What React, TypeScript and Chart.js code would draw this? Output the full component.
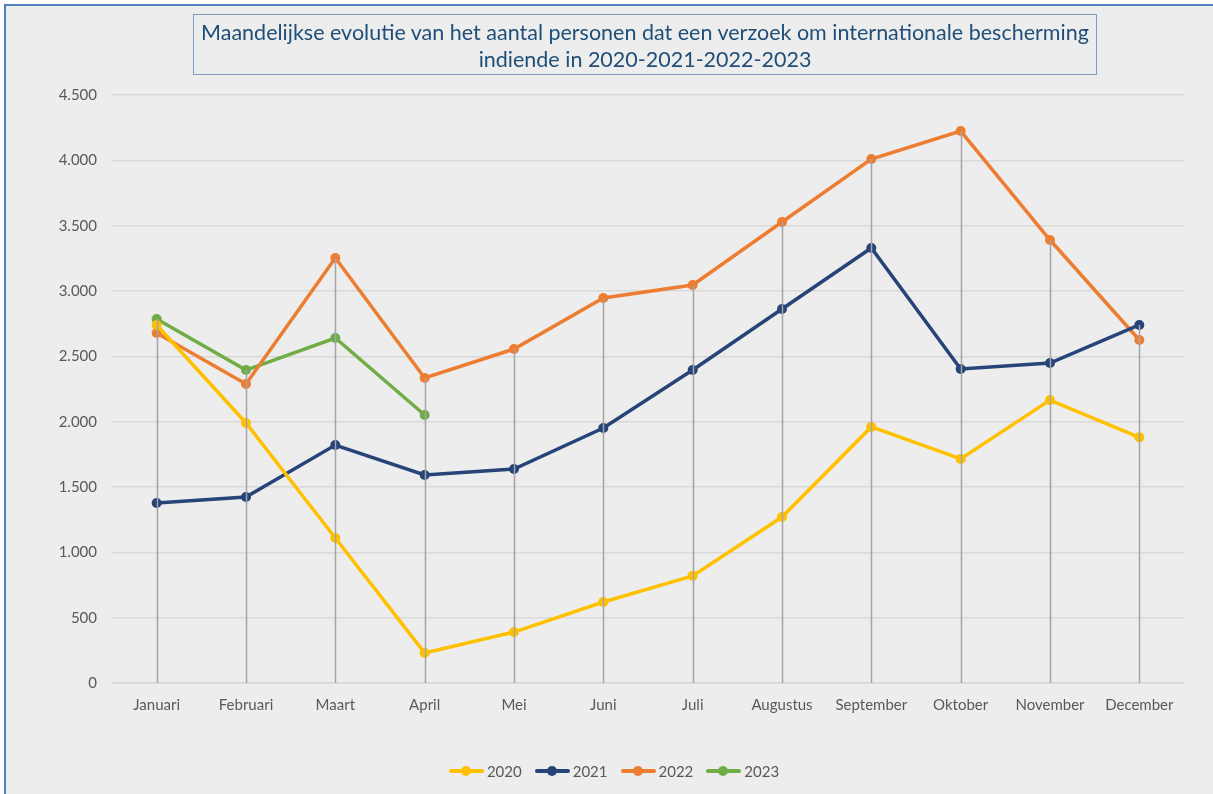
import React, { useEffect, useRef } from "react";
import { Chart, registerables } from "chart.js";

Chart.register(...registerables);

const months = ["Januari", "Februari", "Maart", "April", "Mei", "Juni", "Juli", "Augustus", "September", "Oktober", "November", "December"];
const series2020 = [2740, 1990, 1110, 230, 390, 620, 820, 1270, 1960, 1715, 2165, 1880];
const series2021 = [1378, 1423, 1821, 1592, 1638, 1951, 2395, 2862, 3329, 2403, 2449, 2740];
const series2022 = [2678, 2288, 3252, 2334, 2556, 2946, 3046, 3528, 4010, 4224, 3390, 2625];
const series2023: (number | null)[] = [2786, 2395, 2640, 2051, null, null, null, null, null, null, null, null];
const seriesNames = ["2020", "2021", "2022", "2023"];
const seriesColors = ["#FFC000", "#264478", "#ED7D31", "#70AD47"];
const titleLines = [
  "Maandelijkse evolutie van het aantal personen dat een verzoek om internationale bescherming",
  "indiende in 2020-2021-2022-2023",
];

const FONT = "Lato, 'Open Sans', sans-serif";

const dropLines = {
  id: "dropLines",
  afterDatasetsDraw(chart: any) {
    const { ctx, chartArea, scales } = chart;
    const xs = scales.x;
    const ys = scales.y;
    const n = chart.data.labels.length;
    ctx.save();
    ctx.strokeStyle = "#A5A5A5";
    ctx.lineWidth = 1.5;
    for (let i = 0; i < n; i++) {
      let max: number | null = null;
      chart.data.datasets.forEach((ds: any) => {
        const v = ds.data[i];
        if (v !== null && v !== undefined && (max === null || v > max)) max = v;
      });
      if (max === null) continue;
      const x = Math.round(xs.getPixelForValue(i)) + 0.5;
      ctx.beginPath();
      ctx.moveTo(x, ys.getPixelForValue(max));
      ctx.lineTo(x, chartArea.bottom);
      ctx.stroke();
    }
    ctx.restore();
  },
};

function fmt(v: number) {
  return String(v).replace(/\B(?=(\d{3})+(?!\d))/g, ".");
}

export default function App() {
  const ref = useRef<HTMLCanvasElement>(null);
  useEffect(() => {
    document.body.style.margin = "0";
    const all = [series2020, series2021, series2022, series2023];
    const chart = new Chart(ref.current!, {
      type: "line",
      data: {
        labels: months,
        datasets: all.map((d, i) => ({
          label: seriesNames[i],
          data: d,
          borderColor: seriesColors[i],
          backgroundColor: seriesColors[i],
          borderWidth: 3.5,
          pointRadius: 5,
          pointHoverRadius: 5,
          pointBorderWidth: 0,
          tension: 0,
        })),
      },
      options: {
        responsive: false,
        animation: false,
        layout: { padding: { top: 95, left: 0, right: 29, bottom: 71 } },
        plugins: {
          legend: { display: false },
          title: { display: false },
          tooltip: { enabled: false },
        },
        scales: {
          x: {
            offset: true,
            grid: { display: false, drawTicks: false },
            border: { display: true, color: "#D9D9D9", width: 1.5 },
            ticks: { color: "#595959", font: { family: FONT, size: 15 }, padding: 13, maxRotation: 0, autoSkip: false },
            afterFit: (s: any) => { s.height = 40; },
          },
          y: {
            min: 0,
            max: 4500,
            grid: { color: "#D9D9D9", lineWidth: 1.5, drawTicks: false },
            border: { display: false },
            ticks: {
              stepSize: 500,
              color: "#595959",
              font: { family: FONT, size: 15 },
              padding: 15,
              callback: (v: any) => fmt(Number(v)),
            },
            afterFit: (s: any) => { s.width = 112; },
          },
        },
      },
      plugins: [dropLines],
    });
    return () => chart.destroy();
  }, []);

  return (
    <div style={{ position: "relative", width: 1213, height: 794, background: "#fff", overflow: "hidden" }}>
      <div
        style={{
          position: "absolute",
          left: 4,
          top: 4,
          width: 1220,
          height: 800,
          background: "#EDEDED",
          borderLeft: "2px solid #4F81BD",
          borderTop: "2px solid #4F81BD",
        }}
      />
      <canvas ref={ref} width={1213} height={794} style={{ position: "absolute", left: 0, top: 0 }} />
      <div
        style={{
          position: "absolute",
          left: 193,
          top: 14,
          width: 904,
          height: 61,
          border: "1px solid #7F9CBF",
          color: "#1F4E79",
          fontFamily: FONT,
          fontSize: 21.5,
          lineHeight: "27px",
          textAlign: "center",
          paddingTop: 4,
          boxSizing: "border-box",
          whiteSpace: "nowrap",
        }}
      >
        {titleLines.map((t, i) => (
          <div key={i}>{t}</div>
        ))}
      </div>
      <div
        style={{
          position: "absolute",
          left: 0,
          width: 1228,
          top: 761,
          display: "flex",
          justifyContent: "center",
          gap: 13,
          fontFamily: FONT,
          fontSize: 15,
          color: "#595959",
        }}
      >
        {seriesNames.map((n, i) => (
          <div key={n} style={{ display: "flex", alignItems: "center", gap: 3 }}>
            <div style={{ position: "relative", width: 35, height: 20 }}>
              <div style={{ position: "absolute", left: 0, right: 0, top: 8, height: 4, background: seriesColors[i], borderRadius: 2 }} />
              <div style={{ position: "absolute", left: 12, top: 5, width: 10, height: 10, borderRadius: 5, background: seriesColors[i] }} />
            </div>
            <span>{n}</span>
          </div>
        ))}
      </div>
    </div>
  );
}
